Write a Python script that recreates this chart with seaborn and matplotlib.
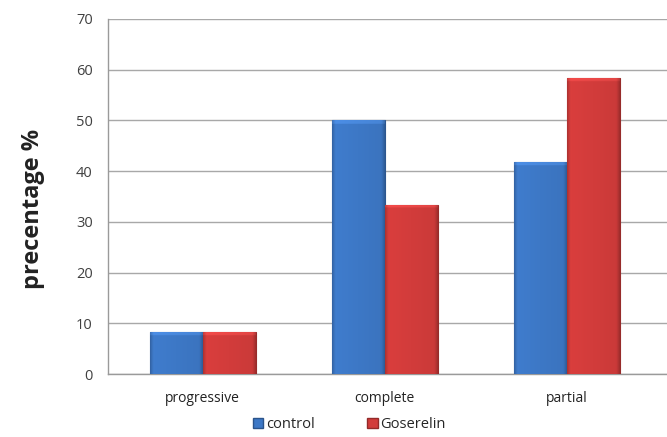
import numpy as np
import pandas as pd
import seaborn as sns
import matplotlib.pyplot as plt
from matplotlib.patches import Patch
from matplotlib.colors import to_rgb

# Response categories and percentages per group
categories = ["progressive", "complete", "partial"]
groups = ["control", "Goserelin"]
control = [8.3, 50.0, 41.7]
goserelin = [8.3, 33.3, 58.3]
yticks = [0, 10, 20, 30, 40, 50, 60, 70]

colors = {"control": "#3d78c6", "Goserelin": "#d23c3b"}

df = pd.DataFrame({
    "category": categories * 2,
    "group": [groups[0]] * 3 + [groups[1]] * 3,
    "value": control + goserelin,
})

sns.set_style("white")
plt.rcParams["font.family"] = ["Open Sans", "DejaVu Sans"]

fig = plt.figure(figsize=(6.67, 4.37), dpi=100)
ax = fig.add_axes([0.162, 0.144, 0.838, 0.813])

sns.barplot(data=df, x="category", y="value", hue="group", order=categories,
            hue_order=groups, palette=colors, width=0.58, gap=0.0,
            saturation=1.0, legend=False, ax=ax, zorder=3)


def shade(rgb, f):
    return tuple(np.clip(np.array(rgb) * f, 0, 1))


# Bevelled look: darker edges, brighter face, drawn clipped to each bar
for patch in ax.patches:
    base = to_rgb(patch.get_facecolor())
    x0, y0 = patch.get_x(), patch.get_y()
    w, h = patch.get_width(), patch.get_height()
    nx, ny = 60, 200
    u = np.linspace(0, 1, nx)
    prof = np.ones(nx)
    edge = 0.06
    prof = np.where(u < edge, 0.8 + 0.2 * u / edge, prof)
    prof = np.where(u > 1 - edge, 0.8 + 0.2 * (1 - u) / edge, prof)
    prof = prof * (1.04 - 0.08 * u)
    img = np.zeros((ny, nx, 3))
    for i in range(3):
        img[:, :, i] = np.clip(base[i] * prof[None, :], 0, 1)
    # lighter bevel strip at the top of the bar
    top_px = 4.0 / 5.07
    frac = min(top_px / max(h, 1e-6), 0.5)
    rows = int(ny * frac)
    if rows > 0:
        img[-rows:, :, :] = np.clip(img[-rows:, :, :] * 1.08 + 0.03, 0, 1)
    im = ax.imshow(img, extent=(x0, x0 + w, y0, y0 + h), origin="lower",
                   aspect="auto", interpolation="bilinear", zorder=3.5)
    im.set_clip_path(patch)
    patch.set_edgecolor(shade(base, 0.72))
    patch.set_linewidth(0.8)

ax.set_xlim(-0.52, 2.55)
ax.set_ylim(0, 70)
ax.set_yticks(yticks)
ax.yaxis.grid(True, color="#a8a8a8", linewidth=1.0, zorder=0)
ax.set_axisbelow(True)

for s in ["top", "right"]:
    ax.spines[s].set_visible(False)
for s in ["left", "bottom"]:
    ax.spines[s].set_color("#9a9a9a")
    ax.spines[s].set_linewidth(1.0)

ax.tick_params(axis="y", which="major", direction="out", length=5,
               color="#9a9a9a", labelsize=10.5, labelcolor="#404040", pad=6)
ax.tick_params(axis="x", which="major", length=0, labelsize=10,
               labelcolor="#222222", pad=12)
ax.set_xticks(range(len(categories)))
ax.set_xticklabels(categories)
ax.set_xticks([0.5, 1.5], minor=True)
ax.tick_params(axis="x", which="minor", direction="out", length=5,
               color="#9a9a9a")

ax.set_xlabel("")
ax.set_ylabel("precentage %", fontsize=17, fontweight="bold",
              color="#222222")
ax.yaxis.set_label_coords(-0.113, 0.465)

handles = [Patch(facecolor=colors[g], edgecolor=shade(to_rgb(colors[g]), 0.7),
                 label=g) for g in groups]
fig.legend(handles=handles, loc="lower center", bbox_to_anchor=(0.524, -0.018),
           ncol=2, frameon=False, fontsize=10.5, handlelength=0.7,
           handleheight=0.7, handletextpad=0.2, columnspacing=3.6)

fig.savefig("out.png", dpi=100)
